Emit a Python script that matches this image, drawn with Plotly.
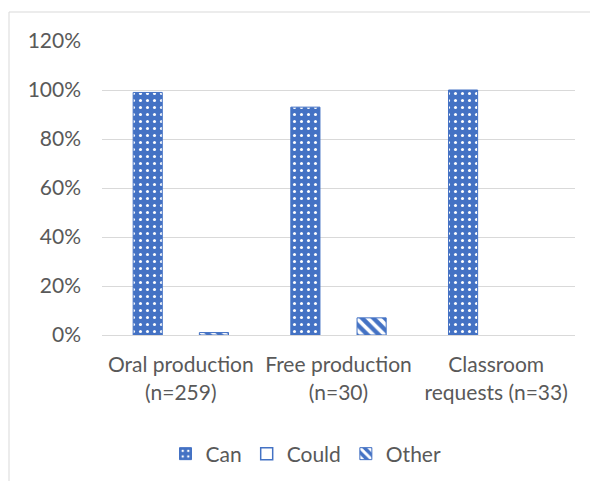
import plotly.graph_objects as go

categories = ["Oral production<br>(n=259)", "Free production<br>(n=30)", "Classroom<br>requests (n=33)"]
can_vals = [0.99, 0.93, 1.00]
could_vals = [0.00, 0.00, 0.00]
other_vals = [0.01, 0.07, 0.00]
y_ticks = [0, 0.2, 0.4, 0.6, 0.8, 1.0, 1.2]

BLUE = "#4472C4"
TXT = "#595959"
FS = 21


def shown(vals):
    # zero-height bars are not drawn (as in the source chart)
    return [v if v > 0 else None for v in vals]


fig = go.Figure()
fig.add_trace(go.Bar(
    name="Can", x=categories, y=shown(can_vals),
    marker=dict(color=BLUE, line=dict(color=BLUE, width=1),
                pattern=dict(shape=".", bgcolor=BLUE, fgcolor="white", size=7, solidity=0.15, fillmode="replace")),
))
fig.add_trace(go.Bar(
    name="Could", x=categories, y=shown(could_vals),
    marker=dict(color="white", line=dict(color=BLUE, width=1.5)),
))
fig.add_trace(go.Bar(
    name="Other", x=categories, y=shown(other_vals),
    marker=dict(color=BLUE, line=dict(color=BLUE, width=1),
                pattern=dict(shape="\\", bgcolor=BLUE, fgcolor="white", size=8, solidity=0.45, fillmode="replace")),
))

# page is offset by the 8px body margin
L, R, T, B = 94, 31, 33, 154
W, H = 598, 481
pw, ph = W - L - R, H - T - B
OFF = 8

fig.add_shape(type="rect", xref="paper", yref="paper",
              x0=(9 - OFF - L) / pw, x1=(620 - OFF - L) / pw,
              y0=((H - B) - 500) / ph, y1=1 + (T - (12 - OFF)) / ph,
              line=dict(color="#D9D9D9", width=1), fillcolor="rgba(0,0,0,0)", layer="below")

fig.update_layout(
    width=W, height=H,
    margin=dict(l=L, r=R, t=T, b=B, pad=0, autoexpand=False),
    paper_bgcolor="white", plot_bgcolor="white",
    font=dict(family="Lato, Open Sans, sans-serif", size=FS, color=TXT),
    barmode="group", bargap=0.37, bargroupgap=0.12,
    showlegend=True,
    legend=dict(orientation="h", x=(306 - OFF - L) / pw, xanchor="center",
                y=((H - B) - (454 - OFF)) / ph, yanchor="middle",
                font=dict(size=FS, color=TXT), itemwidth=30, traceorder="normal"),
    xaxis=dict(showgrid=False, showline=True, linecolor="#D9D9D9", linewidth=1,
               ticks="", tickfont=dict(size=FS, color=TXT), automargin=False,
               ticklabelstandoff=11),
    yaxis=dict(range=[0, 1.2], tickvals=y_ticks, tickformat=".0%",
               showgrid=True, gridcolor="#D9D9D9", gridwidth=1,
               zeroline=False, showline=False, ticks="", automargin=False,
               ticklabelstandoff=20, tickfont=dict(size=FS, color=TXT)),
)

fig.write_html("out.html")
